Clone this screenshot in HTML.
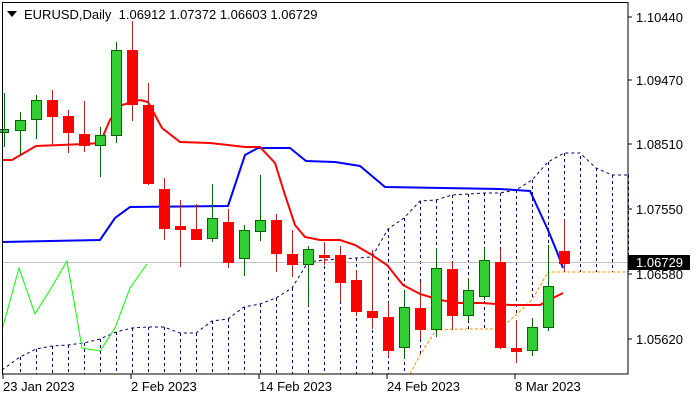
<!DOCTYPE html>
<html><head><meta charset="utf-8"><style>
html,body{margin:0;padding:0;background:#fff;}
svg{display:block;font-family:"Liberation Sans","DejaVu Sans",sans-serif;}
</style></head><body>
<svg width="700" height="400" viewBox="0 0 700 400" xmlns="http://www.w3.org/2000/svg">
<rect width="700" height="400" fill="#fff"/>
<!-- cloud verticals -->
<g stroke="#000060" stroke-width="1" stroke-dasharray="3,3" fill="none" transform="translate(0.5,0)" shape-rendering="crispEdges">
<line x1="20" y1="357" x2="20" y2="374"/><line x1="36" y1="349" x2="36" y2="374"/><line x1="52" y1="346" x2="52" y2="374"/><line x1="68" y1="345" x2="68" y2="374"/><line x1="84" y1="343" x2="84" y2="374"/><line x1="100" y1="339" x2="100" y2="374"/><line x1="116" y1="332" x2="116" y2="374"/><line x1="132" y1="328" x2="132" y2="374"/><line x1="148" y1="327" x2="148" y2="374"/><line x1="164" y1="327" x2="164" y2="374"/><line x1="180" y1="333" x2="180" y2="374"/><line x1="196" y1="333" x2="196" y2="374"/><line x1="212" y1="321" x2="212" y2="374"/><line x1="228" y1="319" x2="228" y2="374"/><line x1="244" y1="307" x2="244" y2="374"/><line x1="260" y1="304" x2="260" y2="374"/><line x1="276" y1="298" x2="276" y2="374"/><line x1="292" y1="288" x2="292" y2="374"/><line x1="308" y1="262" x2="308" y2="374"/><line x1="324" y1="260" x2="324" y2="374"/><line x1="340" y1="259" x2="340" y2="374"/><line x1="356" y1="258" x2="356" y2="374"/><line x1="372" y1="258" x2="372" y2="374"/><line x1="388" y1="229" x2="388" y2="374"/><line x1="404" y1="218" x2="404" y2="374"/><line x1="420" y1="201" x2="420" y2="355"/><line x1="436" y1="200" x2="436" y2="330"/><line x1="452" y1="195" x2="452" y2="329"/><line x1="468" y1="194" x2="468" y2="329"/><line x1="484" y1="193" x2="484" y2="329"/><line x1="500" y1="193" x2="500" y2="329"/><line x1="516" y1="190" x2="516" y2="315"/><line x1="532" y1="180" x2="532" y2="300"/><line x1="548" y1="162" x2="548" y2="272"/><line x1="564" y1="153" x2="564" y2="272"/><line x1="580" y1="156" x2="580" y2="272"/><line x1="596" y1="168" x2="596" y2="272"/><line x1="612" y1="175" x2="612" y2="272"/><line x1="628" y1="175" x2="628" y2="272"/>
</g>
<polyline points="2,370 20,357 36,349 52,346 68,345 84,343 100,339 116,332 132,328 148,327 164,327 180,333 196,333 212,321 228,319 244,307 260,304 276,298 292,288 308,262 324,260 340,259 356,258 372,257 388,229 404,218 420,201 436,200 452,195 468,194 484,193 500,193 516,190 532,180 548,162 564,153 580,153 596,168 612,175 628,175" fill="none" stroke="#000060" stroke-width="1" stroke-dasharray="3,3"/>
<polyline points="410,374 420,355 436,330 460,329 500,329 516,315 532,300 548,272 628,272" fill="none" stroke="#FF8C00" stroke-width="1" stroke-dasharray="3,2"/>
<line x1="2" y1="262.5" x2="628" y2="262.5" stroke="#C0C0C0" stroke-width="1"/>
<polyline points="2,330 19,268 35,314 50,290 67,261 82,348 100,351 115,328 130,288 147,264" fill="none" stroke="#00FF00" stroke-width="1"/>
<polyline points="2,242 50,241 100,240 115,218 130,207 228,206 245,155 258,148 290,148 306,161 335,162 360,166 385,187 500,189 530,191 548,230 557,252 563,268" fill="none" stroke="#0000FF" stroke-width="2"/>
<polyline points="2,160 12,160 36,146 85,144 100,143 110,120 122,105 140,100 148,102 162,128 180,142 210,143 228,145 245,147 260,147 275,163 285,195 295,225 305,237 320,240 340,240 355,245 372,255 387,265 403,285 420,294 440,300 460,303 482,303 510,305 540,305 553,298 563,293" fill="none" stroke="#FF0000" stroke-width="2"/>
<g stroke-width="1" transform="translate(0.5,0)">
<g stroke="#006400"><line x1="4" y1="93" x2="4" y2="147"/><line x1="20" y1="112" x2="20" y2="155"/><line x1="36" y1="95" x2="36" y2="139"/><line x1="100" y1="127" x2="100" y2="177"/><line x1="116" y1="42" x2="116" y2="143"/><line x1="212" y1="184" x2="212" y2="242"/><line x1="244" y1="225" x2="244" y2="276"/><line x1="260" y1="175" x2="260" y2="241"/><line x1="308" y1="246" x2="308" y2="306"/><line x1="404" y1="290" x2="404" y2="359"/><line x1="436" y1="248" x2="436" y2="337"/><line x1="468" y1="278" x2="468" y2="321"/><line x1="484" y1="248" x2="484" y2="300"/><line x1="532" y1="318" x2="532" y2="356"/><line x1="548" y1="245" x2="548" y2="331"/></g>
<g stroke="#B22222"><line x1="52" y1="90" x2="52" y2="145"/><line x1="68" y1="110" x2="68" y2="153"/><line x1="84" y1="101" x2="84" y2="152"/><line x1="132" y1="21" x2="132" y2="121"/><line x1="148" y1="83" x2="148" y2="185"/><line x1="164" y1="178" x2="164" y2="240"/><line x1="180" y1="200" x2="180" y2="267"/><line x1="196" y1="204" x2="196" y2="240"/><line x1="228" y1="209" x2="228" y2="268"/><line x1="276" y1="214" x2="276" y2="272"/><line x1="292" y1="230" x2="292" y2="277"/><line x1="324" y1="242" x2="324" y2="265"/><line x1="340" y1="246" x2="340" y2="302"/><line x1="356" y1="270" x2="356" y2="316"/><line x1="372" y1="250" x2="372" y2="329"/><line x1="388" y1="303" x2="388" y2="357"/><line x1="420" y1="282" x2="420" y2="339"/><line x1="452" y1="262" x2="452" y2="330"/><line x1="500" y1="249" x2="500" y2="349"/><line x1="516" y1="320" x2="516" y2="363"/><line x1="564" y1="220" x2="564" y2="272"/></g>
</g>
<g fill="#32CD32" stroke="#006400">
<rect x="-1.5" y="129.5" width="10" height="3"/><rect x="15.5" y="120.5" width="10" height="10"/><rect x="31.5" y="100.5" width="10" height="19"/><rect x="95.5" y="135.5" width="10" height="10"/><rect x="111.5" y="50.5" width="10" height="85"/><rect x="207.5" y="218.5" width="10" height="20"/><rect x="239.5" y="230.5" width="10" height="28"/><rect x="255.5" y="220.5" width="10" height="11"/><rect x="303.5" y="249.5" width="10" height="15"/><rect x="399.5" y="307.5" width="10" height="40"/><rect x="431.5" y="268.5" width="10" height="61"/><rect x="463.5" y="290.5" width="10" height="25"/><rect x="479.5" y="260.5" width="10" height="36"/><rect x="527.5" y="327.5" width="10" height="23"/><rect x="543.5" y="286.5" width="10" height="41"/></g>
<g fill="#FF0000" stroke="#FF0000">
<rect x="47.5" y="100.5" width="10" height="16"/><rect x="63.5" y="116.5" width="10" height="16"/><rect x="79.5" y="134.5" width="10" height="11"/><rect x="127.5" y="50.5" width="10" height="54"/><rect x="143.5" y="105.5" width="10" height="78"/><rect x="159.5" y="189.5" width="10" height="39"/><rect x="175.5" y="226.5" width="10" height="3"/><rect x="191.5" y="229.5" width="10" height="10"/><rect x="223.5" y="222.5" width="10" height="40"/><rect x="271.5" y="220.5" width="10" height="33"/><rect x="287.5" y="254.5" width="10" height="10"/><rect x="319.5" y="255.5" width="10" height="2"/><rect x="335.5" y="255.5" width="10" height="27"/><rect x="351.5" y="280.5" width="10" height="31"/><rect x="367.5" y="311.5" width="10" height="6"/><rect x="383.5" y="317.5" width="10" height="33"/><rect x="415.5" y="308.5" width="10" height="21"/><rect x="447.5" y="269.5" width="10" height="46"/><rect x="495.5" y="262.5" width="10" height="85"/><rect x="511.5" y="348.5" width="10" height="3"/><rect x="559.5" y="251.5" width="10" height="12"/></g>
<rect x="2.5" y="2.5" width="625.5" height="371.5" fill="none" stroke="#000" stroke-width="1"/>
<g stroke="#000"><line x1="628" y1="17" x2="632" y2="17"/><line x1="628" y1="80" x2="632" y2="80"/><line x1="628" y1="144" x2="632" y2="144"/><line x1="628" y1="209" x2="632" y2="209"/><line x1="628" y1="274" x2="632" y2="274"/><line x1="628" y1="339" x2="632" y2="339"/>
<line x1="3" y1="374" x2="3" y2="379"/><line x1="131" y1="374" x2="131" y2="379"/><line x1="259" y1="374" x2="259" y2="379"/><line x1="387" y1="374" x2="387" y2="379"/><line x1="515" y1="374" x2="515" y2="379"/></g>
<g font-size="13" fill="#000">
<text x="636" y="22">1.10440</text><text x="636" y="85">1.09470</text><text x="636" y="149">1.08510</text><text x="636" y="214">1.07550</text><text x="636" y="279">1.06580</text><text x="636" y="344">1.05620</text>
<text x="3" y="391">23 Jan 2023</text><text x="131" y="391">2 Feb 2023</text><text x="259" y="391">14 Feb 2023</text><text x="387" y="391">24 Feb 2023</text><text x="515" y="391">8 Mar 2023</text>
</g>
<rect x="628" y="255" width="62" height="15" fill="#000"/>
<text x="636" y="267" font-size="13" fill="#fff">1.06729</text>
<polygon points="7,11 17,11 12,17" fill="#000"/>
<text x="24" y="19" font-size="13" fill="#000" xml:space="preserve">EURUSD,Daily  1.06912 1.07372 1.06603 1.06729</text>
</svg>
</body></html>
